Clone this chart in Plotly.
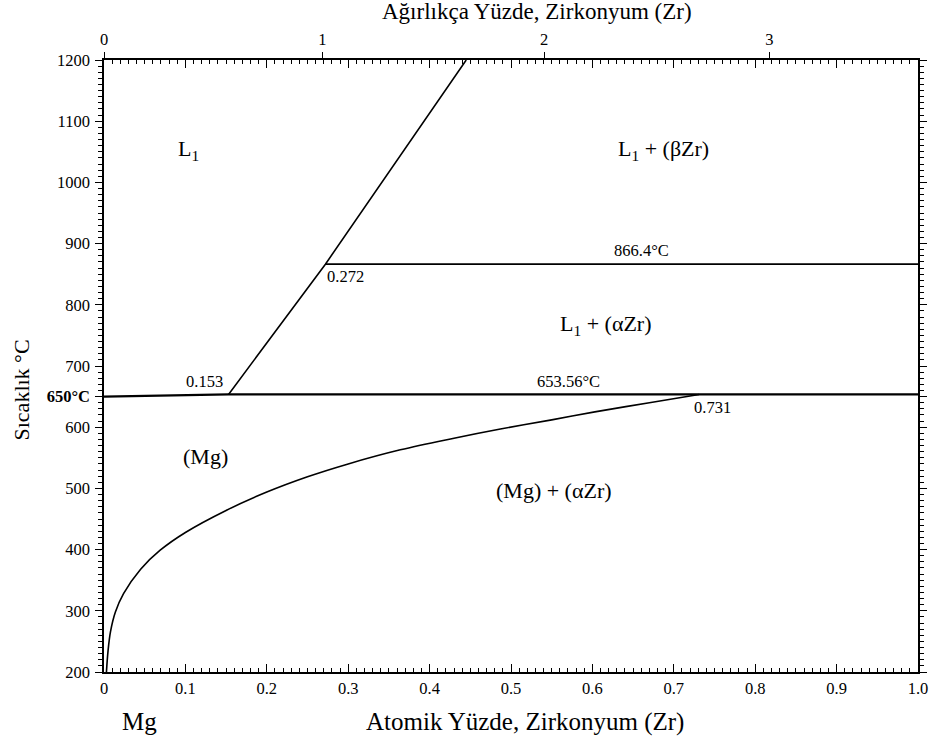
import plotly.graph_objects as go

# ---- data (atomic % Zr, temperature °C) ----
liq_x = [0.153, 0.272, 0.445]
liq_t = [653.56, 866.4, 1200]

per_x = [0.272, 1.0]
per_t = [866.4, 866.4]

sol_x = [0.0, 0.153, 1.0]
sol_t = [650.0, 653.56, 653.56]

sv_x = [0.003, 0.005, 0.008, 0.014, 0.024, 0.045, 0.069, 0.10, 0.15, 0.20,
        0.25, 0.30, 0.364, 0.43, 0.487, 0.55, 0.603, 0.67, 0.731]
sv_t = [200, 235, 266, 298, 328, 368, 399, 428, 464, 494,
        519, 540, 563, 582, 597, 612, 625, 640, 653.56]

y_ticks = [200, 300, 400, 500, 600, 650, 700, 800, 900, 1000, 1100, 1200]
y_labels = ["200", "300", "400", "500", "600", "<b>650°C</b>", "700", "800",
            "900", "1000", "1100", "1200"]
x_ticks = [0, 0.1, 0.2, 0.3, 0.4, 0.5, 0.6, 0.7, 0.8, 0.9, 1.0]
x_labels = ["0", "0.1", "0.2", "0.3", "0.4", "0.5", "0.6", "0.7", "0.8", "0.9", "1.0"]
wt_ticks = [0, 1, 2, 3]
M_ZR, M_MG = 91.224, 24.305

def wt_to_at(w):
    a = w / M_ZR
    b = (100 - w) / M_MG
    return 100 * a / (a + b)

top_vals = [wt_to_at(w) for w in wt_ticks]

labels = [
    (0.1037, 1053, "L<sub>1</sub>", 22),
    (0.6877, 1053, "L<sub>1</sub> + (βZr)", 22),
    (0.6607, 888.5, "866.4°C", 16.5),
    (0.2963, 846, "0.272", 16.5),
    (0.6166, 767, "L<sub>1</sub> + (αZr)", 22),
    (0.1233, 674, "0.153", 16.5),
    (0.5712, 674.6, "653.56°C", 16.5),
    (0.7479, 631.6, "0.731", 16.5),
    (0.1245, 552, "(Mg)", 22),
    (0.5528, 496, "(Mg) + (αZr)", 22),
]

FONT = "Liberation Serif, Times New Roman, serif"
TICK = 16.5
line = dict(color="black", width=1.6)

fig = go.Figure()
fig.add_trace(go.Scatter(x=liq_x, y=liq_t, mode="lines", line=line, hoverinfo="skip"))
fig.add_trace(go.Scatter(x=per_x, y=per_t, mode="lines", line=line, hoverinfo="skip"))
fig.add_trace(go.Scatter(x=sol_x, y=sol_t, mode="lines", line=dict(color="black", width=2.2), hoverinfo="skip"))
fig.add_trace(go.Scatter(x=sv_x, y=sv_t, mode="lines",
                         line=dict(color="black", width=1.6, shape="spline", smoothing=1.0),
                         hoverinfo="skip"))
# invisible trace to activate top axis
fig.add_trace(go.Scatter(x=[0, 1], y=[200, 200], xaxis="x2", mode="lines",
                         line=dict(color="rgba(0,0,0,0)"), hoverinfo="skip"))

for x, y, t, s in labels:
    fig.add_annotation(x=x, y=y, text=t, showarrow=False,
                       font=dict(family=FONT, size=s, color="black"))

fig.add_annotation(xref="paper", yref="paper", x=0.517, y=-0.0812, yanchor="middle",
                   text="Atomik Yüzde, Zirkonyum (Zr)", showarrow=False,
                   font=dict(family=FONT, size=25, color="black"))
fig.add_annotation(xref="paper", yref="paper", x=0.0198, y=-0.0812, yanchor="middle",
                   text="Mg", showarrow=False,
                   font=dict(family=FONT, size=25, color="black"))
fig.add_annotation(xref="paper", yref="paper", x=0.532, y=1.08, yanchor="middle",
                   text="Ağırlıkça Yüzde, Zirkonyum (Zr)", showarrow=False,
                   font=dict(family=FONT, size=23, color="black"))
fig.add_annotation(xref="paper", yref="paper", x=-0.1012, y=0.461, textangle=-90,
                   xanchor="center", yanchor="middle",
                   text="Sıcaklık °C", showarrow=False,
                   font=dict(family=FONT, size=22, color="black"))

fig.update_layout(
    width=933, height=749,
    margin=dict(l=104, r=14.5, t=60, b=76.7, autoexpand=False),
    paper_bgcolor="white", plot_bgcolor="white",
    showlegend=False,
    font=dict(family=FONT, color="black", size=TICK),
    xaxis=dict(range=[0, 1.0], tickvals=x_ticks, ticktext=x_labels,
               ticks="inside", ticklen=8, tickwidth=1.3, tickcolor="black",
               showline=True, linecolor="black", linewidth=1.6, mirror="ticks",
               showgrid=False, zeroline=False, automargin=False,
               minor=dict(dtick=0.01, tick0=0, ticks="inside", ticklen=4, tickwidth=1.2, tickcolor="black"),
               tickfont=dict(family=FONT, size=TICK)),
    xaxis2=dict(range=[0, 1.0], overlaying="x", side="top", tickvals=top_vals,
                ticktext=[str(w) for w in wt_ticks],
                ticks="outside", ticklen=7, tickwidth=1.3, tickcolor="black",
                showline=False, showgrid=False, zeroline=False, automargin=False,
                tickfont=dict(family=FONT, size=TICK)),
    yaxis=dict(range=[200, 1200], tickvals=y_ticks, ticktext=y_labels,
               ticks="outside", ticklen=7, tickwidth=1.3, tickcolor="black",
               showline=True, linecolor="black", linewidth=1.6, mirror="ticks",
               showgrid=False, zeroline=False, automargin=False,
               ticklabelstandoff=2,
               minor=dict(dtick=10, tick0=200, ticks="outside", ticklen=4, tickwidth=1.2, tickcolor="black"),
               tickfont=dict(family=FONT, size=TICK)),
)

fig.write_html("out.html", config={"displayModeBar": False},
               post_script="document.body.style.margin='0px';")
